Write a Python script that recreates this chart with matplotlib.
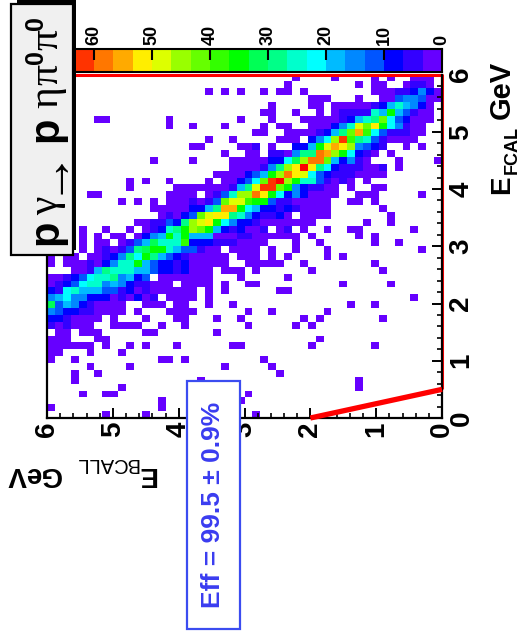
"""Efficiency plot of EBCALL against EFCAL, turned on its side like the scan."""
import numpy as np
import matplotlib
matplotlib.use('Agg')
import matplotlib.pyplot as plt
from matplotlib.colors import BoundaryNorm, ListedColormap
from matplotlib.patches import Rectangle
from matplotlib.ticker import MultipleLocator

FIG_W, FIG_H = 520, 637

# one code per colour level of the palette, '.' is an empty bin
LEVEL_CODES = '0123456789abcdefghij'
LEVEL_COLORS = ['#6600ff', '#3300ff', '#0000ff', '#0055ff', '#0088ff',
                '#00bbff', '#00ffff', '#00ffcc', '#00ff88', '#00ff55',
                '#00ff00', '#33ff00', '#66ff00', '#99ff00', '#ddff00',
                '#ffee00', '#ffaa00', '#ff7700', '#ff3300', '#ff0000']
LEVEL_STEP = 10 / 3

# bin contents, first row is EFCAL 5.88-6, first column is EBCALL 5.88-6
BIN_ROWS = [
    '.......... .......... .......... .0....0... .0.0..000.',
    '.......... .......... .......... 0........0 .00..0110.',
    '.......... .......... 0.0.0..0.0 0.0....... .000112420',
    '.......... .......... .......... ...000...0 ..00344300',
    '.......... .......... ........0. ...00.0000 012575420.',
    '.......... .......... .......00. .0..0.0111 175a53100.',
    '......00.. .....0.... ....0...0. ..00000125 78c632000.',
    '.......... .....0..0. ..0....0.0 0..000247e cfa64100..',
    '.......... .......... ......00.. 00001258cg b6311100..',
    '.......... .......... 0..0.....0 00.246dib8 7310000...',
    '.......... ........00 ....001.0. .225aegfd4 321..0.0..',
    '.......... .......... ..0..00.11 0488hgda62 10.0......',
    '.......... ...0....0. ...0000022 69dhhc5241 0...0....0',
    '.......... .......... ...0000148 dfjf862111 001.0.....',
    '.......... .......... .0000235ad hfe6321110 000.......',
    '.......... 0.0..0.... 0.00236cij da7731010. 0.........',
    '.......... 0.....0000 000158eiic a421100.0. .00.......',
    '.....00... .....0000. 0137ddhfa6 2420000..0 00.....0..',
    '.........0 .0.0.00010 13ceebaa31 100000..00 .0........',
    '.......... ...0000022 58gga65221 210000.... ..0.......',
    '.......... ....01023c eff8742112 0.0000.... ...0......',
    '.......... .0011328de fa64221000 0000...... 0..0......',
    '....0..0.. 0.01278adc a5212001.0 1.0..0..00 ......0...',
    '....0.0.00 .0245a7a55 5000110000 00.0.....0 .0........',
    '....0.00.0 1359777b22 21110000.. .0..0..... .0..0.....',
    '....0.0101 389aa75331 00.0000.0. .0...0.... .......0..',
    '0.00.00124 86a8532100 000.000.0. 0....0.0.. ..........',
    '0.00010247 7a53221200 000..00000 ..0....... .0........',
    '...0015877 7553221200 0.000.0... ...0...... ..0.......',
    '0012367784 523.000000 0...0..... 0......... ..........',
    '0123677454 211000.000 0.0..00... .......0.. ...0......',
    '2167555331 201000000. 0.0......0 0......... ..........',
    '4564422201 0201.0000. 0......... .......... ......0...',
    '9354210000 ..000.00.. 0..0...... ........0. .0........',
    '4322110000 .0...0000. .....0..0. .....0.... ..........',
    '2210000.0. ..0...00.. .0..0..... ..0.0..... ..0.......',
    '101000..00 00..0..0.. .....0.... .0.0...... ..........',
    '.00.000... ..00...... .0........ .......... ..........',
    '000...00.. .......... .......... ....0..... ..........',
    '000000.0.. 0.0...0... ...00..... ...0...... .0........',
    '00...0...0 .......... .......... .......... ..........',
    '0..0...... ....00.0.. .......0.. .......... ..........',
    '.....0.... 0......... ..0.....0. .......... ..........',
    '...0..0... .......... .........0 .......... ..........',
    '...0...... .........0 .......... .........0 ..........',
    '.........0 .......... .......... .........0 ..........',
    '....0..00. .......... .....0.... .......... ..........',
    '.......... ....0..... ....0..... .......... ..........',
    '0......... ....0..... .......... .......... ..........',
    '.......0.. ..0....... ......0... .......... ..........',
]

AXIS_TICKS = [0, 1, 2, 3, 4, 5, 6]
SCALE_TICKS = [0, 10, 20, 30, 40, 50, 60]

# kinematic cut drawn in red
CUT_BCALL = [0, 2]
CUT_FCAL = [0.5, 0]
EDGE_BCALL = [6, 0, 0]
EDGE_FCAL = [6, 6, 0.5]

EFF_TEXT = 'Eff = 99.5 \u00b1 0.9%'


def pixel_axes(fig, left, top, right, bottom):
    """axes placed by pixel box measured from the top left corner"""
    return fig.add_axes([left / FIG_W, 1 - bottom / FIG_H,
                         (right - left) / FIG_W, (bottom - top) / FIG_H])


def read_counts():
    """turn the level codes into bin contents, EFCAL rows and EBCALL columns"""
    counts = np.full((50, 50), np.nan)
    for row, line in enumerate(BIN_ROWS):
        for col, code in enumerate(line.replace(' ', '')):
            if code != '.':
                level = LEVEL_CODES.index(code)
                counts[49 - row, 49 - col] = (level + 0.5) * LEVEL_STEP
    return np.ma.masked_invalid(counts)


def draw_map(fig, cmap, norm):
    """the 2D histogram with its axes"""
    ax = pixel_axes(fig, 47, 74.5, 442, 418)
    edges = np.linspace(0, 6, 51)
    ax.pcolormesh(edges, edges, read_counts(), cmap=cmap, norm=norm,
                  linewidth=0, antialiased=False, zorder=1)
    ax.plot(EDGE_BCALL, EDGE_FCAL, color='#ff0000', lw=2.2, zorder=2,
            clip_on=False, solid_capstyle='butt')
    ax.plot(CUT_BCALL, CUT_FCAL, color='#ff0000', lw=3.8, zorder=4,
            clip_on=False, solid_capstyle='butt')
    ax.set_xlim(6, 0)
    ax.set_ylim(0, 6)
    ax.set_xticks(AXIS_TICKS)
    ax.set_yticks(AXIS_TICKS)
    ax.xaxis.set_minor_locator(MultipleLocator(0.2))
    ax.yaxis.set_minor_locator(MultipleLocator(0.2))
    ax.yaxis.tick_right()
    ax.spines['top'].set_visible(False)
    for side in ['left', 'bottom', 'right']:
        ax.spines[side].set_linewidth(1.6)
        ax.spines[side].set_zorder(3)
    ax.tick_params(which='major', direction='in', length=7.5, width=1.4,
                   labelsize=20)
    ax.tick_params(which='minor', direction='in', length=3.8, width=1.2)
    for label in ax.get_xticklabels() + ax.get_yticklabels():
        label.set_fontweight('bold')
        label.set_rotation(90)
        label.set_ha('center')
        label.set_va('center')
    ax.tick_params(axis='x', which='major', pad=8)
    ax.tick_params(axis='y', which='major', pad=14)
    return ax


def draw_scale(fig, cmap, norm):
    """the colour scale above the map"""
    cax = pixel_axes(fig, 55.3, 49, 442, 72)
    edges = np.arange(21) * LEVEL_STEP
    mids = (edges[:-1] + edges[1:]) / 2
    cax.pcolormesh(edges, [0, 1], mids.reshape(1, -1), cmap=cmap, norm=norm,
                   linewidth=0, antialiased=False)
    cax.set_xlim(edges[-1], 0)
    cax.set_ylim(0, 1)
    cax.set_yticks([])
    cax.set_xticks(SCALE_TICKS)
    cax.xaxis.tick_top()
    cax.tick_params(axis='x', direction='in', length=8, width=1.5,
                    labelsize=13, pad=3)
    for label in cax.get_xticklabels():
        label.set_fontweight('bold')
        label.set_rotation(90)
        label.set_ha('center')
        label.set_va('bottom')
    for spine in cax.spines.values():
        spine.set_linewidth(1.5)


def title_piece(over, x, y, text, family, size, bold=False):
    """one glyph group of the title, started at a baseline point"""
    over.text(x, y, text, rotation=90, rotation_mode='anchor', ha='left',
              va='baseline', family=family, fontsize=size,
              fontweight='bold' if bold else 'normal', color='black')


def draw_overlay(fig):
    """boxes and axis titles, in pixel coordinates"""
    over = fig.add_axes([0, 0, 1, 1], zorder=10)
    over.set_xlim(0, FIG_W)
    over.set_ylim(FIG_H, 0)
    over.axis('off')
    over.patch.set_alpha(0)

    # title box with its black shadow
    over.add_patch(Rectangle((17, 0), 59, 250, fc='black', ec='none'))
    over.add_patch(Rectangle((11, 4), 62, 251, fc='#f0f0f0', ec='black', lw=1.6))
    title_piece(over, 57, 245, 'p', 'Liberation Sans', 30, bold=True)
    title_piece(over, 57, 215, '\u03b3', 'Liberation Serif', 30)
    title_piece(over, 60, 194, '\u2192', 'Liberation Serif', 37)
    title_piece(over, 57, 142, 'p', 'Liberation Sans', 30, bold=True)
    title_piece(over, 57, 108, '\u03b7', 'Liberation Serif', 30)
    title_piece(over, 57, 85, '\u03c0', 'Liberation Serif', 30)
    title_piece(over, 43, 64, '0', 'Liberation Sans', 18, bold=True)
    title_piece(over, 57, 50, '\u03c0', 'Liberation Serif', 30)
    title_piece(over, 43, 30, '0', 'Liberation Sans', 18, bold=True)

    # efficiency box
    over.add_patch(Rectangle((186.5, 381), 53, 247.5, fc='white', ec='#3b4cf0', lw=1.6))
    over.text(213, 505, EFF_TEXT, rotation=90, ha='center', va='center',
              fontsize=19, fontweight='bold', color='#3a3cf0')

    # EFCAL title
    over.text(502, 184.5, 'E', rotation=90, ha='center', va='center',
              fontsize=20, fontweight='bold')
    over.text(512, 150.5, 'FCAL', rotation=90, ha='center', va='center',
              fontsize=13, fontweight='bold')
    over.text(502, 90, 'GeV', rotation=90, ha='center', va='center',
              fontsize=21, fontweight='bold')

    # EBCALL title, upside down
    over.text(146.5, 474, 'E', rotation=180, ha='center', va='center',
              fontsize=20, fontweight='bold')
    over.text(106.5, 463, 'BCALL', rotation=180, ha='center', va='center',
              fontsize=14.5)
    over.text(33, 474, 'GeV', rotation=180, ha='center', va='center',
              fontsize=20, fontweight='bold')


def main():
    """build the figure and save it"""
    plt.rcParams['font.family'] = ['Liberation Sans', 'DejaVu Sans']
    fig = plt.figure(figsize=(FIG_W / 100, FIG_H / 100), dpi=100)
    boundaries = np.arange(21) * LEVEL_STEP
    cmap = ListedColormap(LEVEL_COLORS)
    norm = BoundaryNorm(boundaries, cmap.N)
    draw_map(fig, cmap, norm)
    draw_scale(fig, cmap, norm)
    draw_overlay(fig)
    fig.savefig('out.png', dpi=100)


if __name__ == '__main__':
    main()
